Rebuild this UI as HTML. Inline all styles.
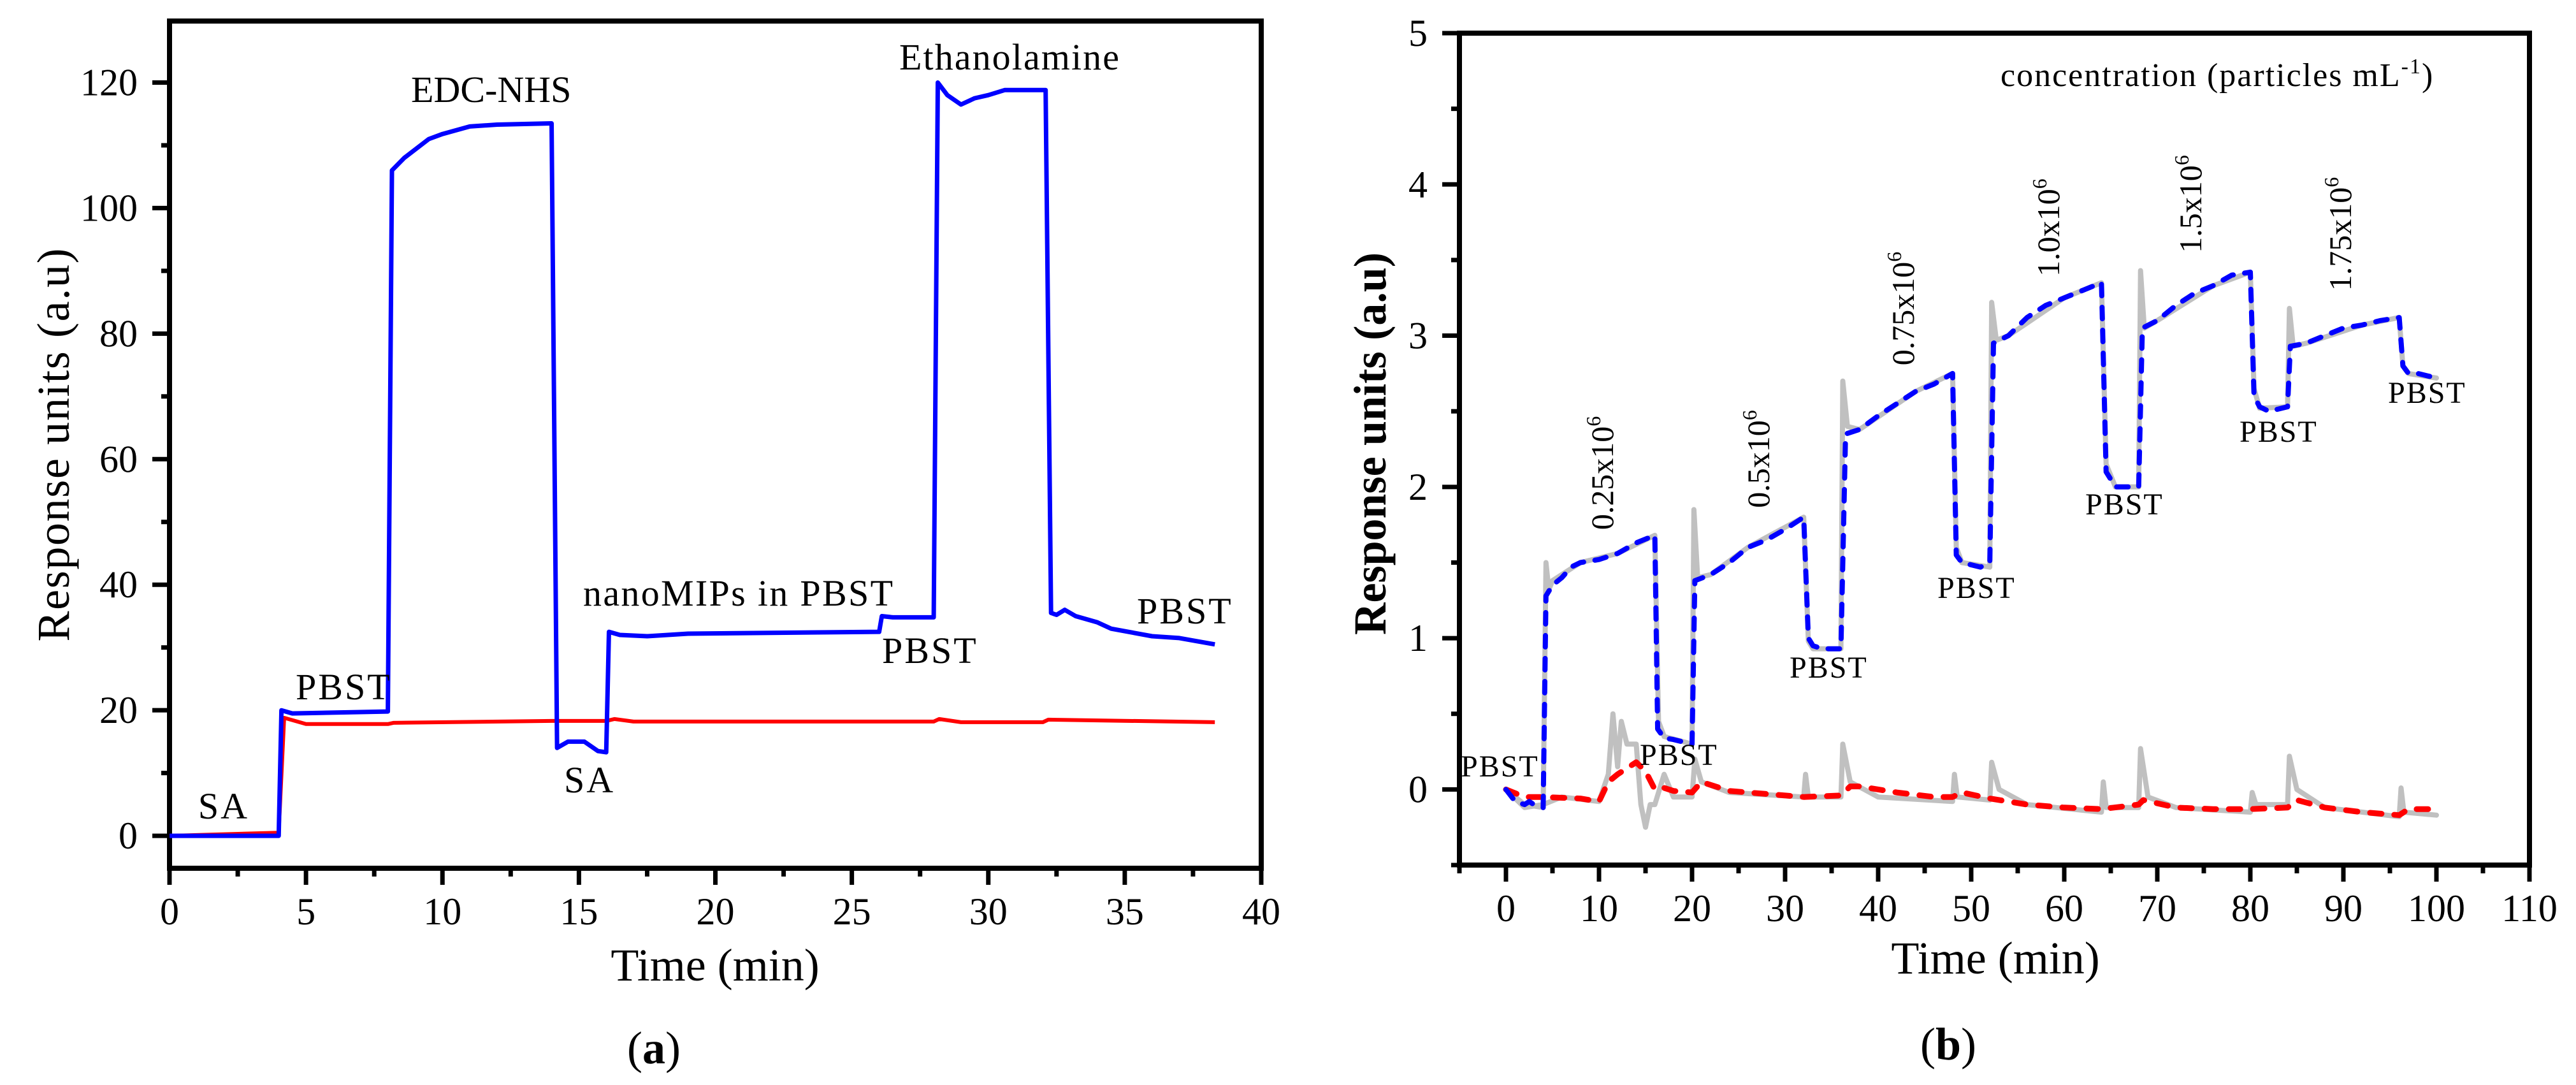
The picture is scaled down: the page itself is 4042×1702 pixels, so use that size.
<!DOCTYPE html>
<html><head><meta charset="utf-8"><style>
html,body{margin:0;padding:0;background:#fff;}
svg{display:block;font-family:"Liberation Serif","Times New Roman",serif;}
</style></head><body>
<svg id="fig" width="4042" height="1702" viewBox="0 0 4042 1702" xmlns="http://www.w3.org/2000/svg">
<g id="pa"></g>
<g id="pb"></g>
</svg>
<script>
// ---------- Panel (a) data ----------
const aBlueT=[0,4,4.1,4.5,8,8.15,8.6,9.5,10,11,12,14,14.2,14.6,15.2,15.7,16,16.1,16.5,17.5,19,26,26.1,26.5,28,28.15,28.5,29,29.5,30,30.6,32.1,32.3,32.5,32.8,33.2,34,34.5,36,37,38.3];
const aBlueV=[0,0,20,19.5,19.8,106,108,111,111.8,113,113.3,113.5,14,15,15,13.5,13.3,32.5,32,31.8,32.2,32.5,35,34.8,34.8,120,118,116.5,117.5,118,118.8,118.8,35.5,35.2,36,35,34,33,31.8,31.5,30.5];
const aRedT=[0,4,4.2,5,8,8.2,14,16,16.3,17,28,28.2,29,32,32.2,38.3];
const aRedV=[0,0.5,18.8,17.8,17.8,18,18.3,18.3,18.6,18.2,18.2,18.6,18.1,18.1,18.5,18.1];
const aXTicks=[0,5,10,15,20,25,30,35,40];
const aYTicks=[0,20,40,60,80,100,120];

// ---------- Panel (b) data ----------
const bBlueT=[0,1,2,2.5,3,4,4.3,5,6,7,8,10,12,14,16,16.3,17,18,20,20.3,22,24,26,28,30,32,32.5,33,34,36,36.5,38,40,42,44,46,48,48.4,49,51,52,52.4,54,56,58,60,62,64,64.5,65.5,68,68.4,70,72,74,76,78,80,80.4,81,82,84,84.3,86,88,90,92,94,96,96.4,97,98,100];
const bBlueV=[0,-0.08,-0.1,-0.08,-0.1,-0.12,1.28,1.35,1.4,1.47,1.5,1.52,1.56,1.63,1.68,0.4,0.34,0.33,0.3,1.38,1.42,1.5,1.6,1.65,1.72,1.8,1.0,0.95,0.93,0.93,2.35,2.38,2.47,2.55,2.63,2.68,2.75,1.55,1.5,1.47,1.5,2.95,3.0,3.12,3.2,3.25,3.3,3.35,2.1,2.0,2.0,3.05,3.1,3.2,3.28,3.33,3.4,3.42,2.6,2.53,2.5,2.53,2.93,2.95,3.0,3.05,3.07,3.1,3.12,2.8,2.75,2.75,2.72];
const bGrayHiT=[0,2,4,4.3,4.6,5,8,12,16,16.4,17,20,20.2,20.6,22,26,32,32.5,33,36,36.2,36.7,38,44,48,48.4,49,52,52.2,52.7,54,60,64,64.5,65.5,68,68.2,68.6,70,76,80,80.4,81,84,84.2,84.6,86,92,96,96.4,97,100];
const bGrayHiV=[0,-0.1,-0.12,1.5,1.32,1.38,1.5,1.56,1.68,0.45,0.35,0.3,1.85,1.4,1.42,1.6,1.8,0.98,0.93,0.93,2.7,2.4,2.38,2.63,2.75,1.6,1.5,1.47,3.22,2.97,3.0,3.25,3.35,2.15,2.0,2.0,3.43,3.05,3.1,3.33,3.42,2.65,2.52,2.53,3.18,2.93,2.95,3.07,3.12,2.8,2.75,2.72];
const bGrayLoT=[0,2,4,6,10,11,11.5,12,12.4,13,14,14.5,15,15.5,16,17,18,20,20.3,21,24,32,32.2,32.5,36,36.2,37,40,48,48.2,48.5,52,52.2,53,56,64,64.2,64.5,68,68.2,69,72,80,80.2,80.6,84,84.2,85,88,96,96.2,96.5,100];
const bGrayLoV=[0,-0.12,-0.1,-0.05,-0.08,0.1,0.5,0.15,0.45,0.3,0.3,-0.1,-0.25,-0.1,-0.1,0.1,-0.05,-0.05,0.2,0.05,-0.02,-0.05,0.1,-0.05,-0.05,0.3,0.05,-0.05,-0.08,0.1,-0.05,-0.07,0.18,0,-0.1,-0.15,0.05,-0.12,-0.12,0.27,-0.05,-0.12,-0.15,-0.02,-0.1,-0.1,0.22,0,-0.12,-0.18,0.01,-0.15,-0.17];
const bRedT=[0,2,4,8,10,11,12,14,15,16,17,18,20,21,24,28,32,36,37,38,42,46,48,49,52,56,60,64,68,68.5,72,76,80,84,85,88,92,96,97,100];
const bRedV=[0,-0.05,-0.05,-0.06,-0.08,0.05,0.1,0.18,0.12,0,0.01,-0.01,-0.02,0.05,-0.01,-0.03,-0.05,-0.04,0.02,0.02,-0.02,-0.05,-0.05,-0.02,-0.06,-0.1,-0.12,-0.13,-0.1,-0.07,-0.12,-0.13,-0.13,-0.12,-0.07,-0.12,-0.15,-0.17,-0.13,-0.13];
const bXTicks=[0,10,20,30,40,50,60,70,80,90,100,110];
const bYTicks=[0,1,2,3,4,5];

const NS="http://www.w3.org/2000/svg";
function mk(parent,tag,attrs,txt){const e=document.createElementNS(NS,tag);for(const k in attrs)e.setAttribute(k,attrs[k]);if(txt!==undefined)e.textContent=txt;parent.appendChild(e);return e;}

const axA={x0:266,x1:1979,y0:1362,y1:33,xmin:0,xmax:40,ymin:-5.17,ymax:129.8};
const axB={x0:2290,x1:3969,y0:1357,y1:52,xmin:-5,xmax:110,ymin:-0.5,ymax:5};
function sx(ax,v){return ax.x0+(v-ax.xmin)/(ax.xmax-ax.xmin)*(ax.x1-ax.x0);}
function sy(ax,v){return ax.y0-(v-ax.ymin)/(ax.ymax-ax.ymin)*(ax.y0-ax.y1);}
function pts(ax,T,V){return T.map((t,i)=>sx(ax,t).toFixed(1)+","+sy(ax,V[i]).toFixed(1)).join(" ");}

function frame(g,ax,xt,yt,xminor,yminor){
  const fr=mk(g,'rect',{x:ax.x0,y:ax.y1,width:ax.x1-ax.x0,height:ax.y0-ax.y1,fill:'none',stroke:'#000','stroke-width':8});
  
  
  const xg=mk(g,'g',{});
  
  
  xminor.forEach(v=>{const x=sx(ax,v);mk(xg,'line',{x1:x,x2:x,y1:ax.y0,y2:ax.y0+13,stroke:'#000','stroke-width':7});});
  xt.forEach(v=>{const x=sx(ax,v);mk(xg,'line',{x1:x,x2:x,y1:ax.y0,y2:ax.y0+26,stroke:'#000','stroke-width':7});
    const t=mk(xg,'text',{x:x,y:ax.y0+88,'font-size':60,'text-anchor':'middle'},String(v));
    
    });
  const yg=mk(g,'g',{});
  
  
  yminor.forEach(v=>{const y=sy(ax,v);mk(yg,'line',{x1:ax.x0-13,x2:ax.x0,y1:y,y2:y,stroke:'#000','stroke-width':7});});
  yt.forEach(v=>{const y=sy(ax,v);mk(yg,'line',{x1:ax.x0-27,x2:ax.x0,y1:y,y2:y,stroke:'#000','stroke-width':7});
    const t=mk(yg,'text',{x:ax.x0-50,y:y+20,'font-size':60,'text-anchor':'end'},String(v));
    
    });
}
function label(g,name,x,y,txt,size,extra){const t=mk(g,'text',Object.assign({x:x,y:y,'font-size':size},extra||{}),txt);
  
  
  return t;}

// ---------- Panel (a) ----------
const ga=document.getElementById('pa');
frame(ga,axA,aXTicks,aYTicks,[2.5,7.5,12.5,17.5,22.5,27.5,32.5,37.5],[10,30,50,70,90,110]);
const aRed=mk(ga,'polyline',{points:pts(axA,aRedT,aRedV),fill:'none',stroke:'#ff0000','stroke-width':6,'stroke-linejoin':'round'});


const aBlue=mk(ga,'polyline',{points:pts(axA,aBlueT,aBlueV),fill:'none',stroke:'#0000ff','stroke-width':7,'stroke-linejoin':'round'});


const ls={'letter-spacing':3};
label(ga,'label-sa-1',351,1284,'SA',58,Object.assign({'text-anchor':'middle'},ls));
label(ga,'label-pbst-1',464,1097,'PBST',58,ls);
label(ga,'label-edc-nhs',645,160,'EDC-NHS',58);
label(ga,'label-sa-2',885,1243,'SA',58,ls);
label(ga,'label-nanomips',915,950,'nanoMIPs in PBST',58,{'textLength':486});
label(ga,'label-pbst-2',1384,1040,'PBST',58,ls);
label(ga,'label-ethanolamine',1411,109,'Ethanolamine',58,{'textLength':345});
label(ga,'label-pbst-3',1784,978,'PBST',58,ls);
label(ga,'x-axis-title-a',1122,1538,'Time (min)',72,{'text-anchor':'middle'});
label(ga,'y-axis-title-a',0,0,'Response units (a.u)',72,{'text-anchor':'middle','transform':'translate(108,698) rotate(-90)','textLength':617});
const capA=label(ga,'caption-a',1026,1668,'',72,{'text-anchor':'middle'});
capA.innerHTML='(<tspan font-weight="bold">a</tspan>)';

// ---------- Panel (b) ----------
const gb=document.getElementById('pb');
frame(gb,axB,bXTicks,bYTicks,[-5,5,15,25,35,45,55,65,75,85,95,105],[-0.5,0.5,1.5,2.5,3.5,4.5]);
function series(g,name,T,V,color,w,dash){const p=mk(g,'polyline',{points:pts(axB,T,V),fill:'none',stroke:color,'stroke-width':w,'stroke-linejoin':'round','stroke-linecap':'round'});
  if(dash)p.setAttribute('stroke-dasharray',dash);
  
  }
series(gb,'gray-series-high',bGrayHiT,bGrayHiV,'#c0c0c0',8);
series(gb,'gray-series-low',bGrayLoT,bGrayLoV,'#c0c0c0',8);
series(gb,'red-dashed-series',bRedT,bRedV,'#ff0000',9,'18 20');
series(gb,'blue-dashed-series',bBlueT,bBlueV,'#0000ff',8,'18 18');
[[2292,1218],[2573,1200],[2808,1063],[3040,938],[3272,807],[3514,693],[3747,632]].forEach((p,i)=>{
  label(gb,'label-pbst-b-'+(i+1),p[0],p[1],'PBST',48,{'letter-spacing':2});
});
const conc=[['0.25',2514,742],['0.5',2759,720],['0.75',2986,484],['1.0',3214,357],['1.5',3437,320],['1.75',3672,367]];
conc.forEach((c,i)=>{
  const t=label(gb,'conc-label-'+(i+1),0,0,'',50,{'text-anchor':'middle','transform':'translate('+(c[1]+17)+','+c[2]+') rotate(-90)'});
  t.innerHTML=c[0]+'x10<tspan font-size="32" dy="-20">6</tspan>';
});
const ct=label(gb,'concentration-legend',3139,135,'',52,{'letter-spacing':2});
ct.innerHTML='concentration (particles mL<tspan font-size="34" dy="-20">-1</tspan><tspan dy="20">)</tspan>';
label(gb,'x-axis-title-b',3131,1527,'Time (min)',72,{'text-anchor':'middle'});
label(gb,'y-axis-title-b',0,0,'Response units (a.u)',72,{'text-anchor':'middle','font-weight':'bold','transform':'translate(2174,696) rotate(-90)','textLength':600,'lengthAdjust':'spacingAndGlyphs'});
const capB=label(gb,'caption-b',3057,1662,'',72,{'text-anchor':'middle'});
capB.innerHTML='(<tspan font-weight="bold">b</tspan>)';
</script>
</body></html>
